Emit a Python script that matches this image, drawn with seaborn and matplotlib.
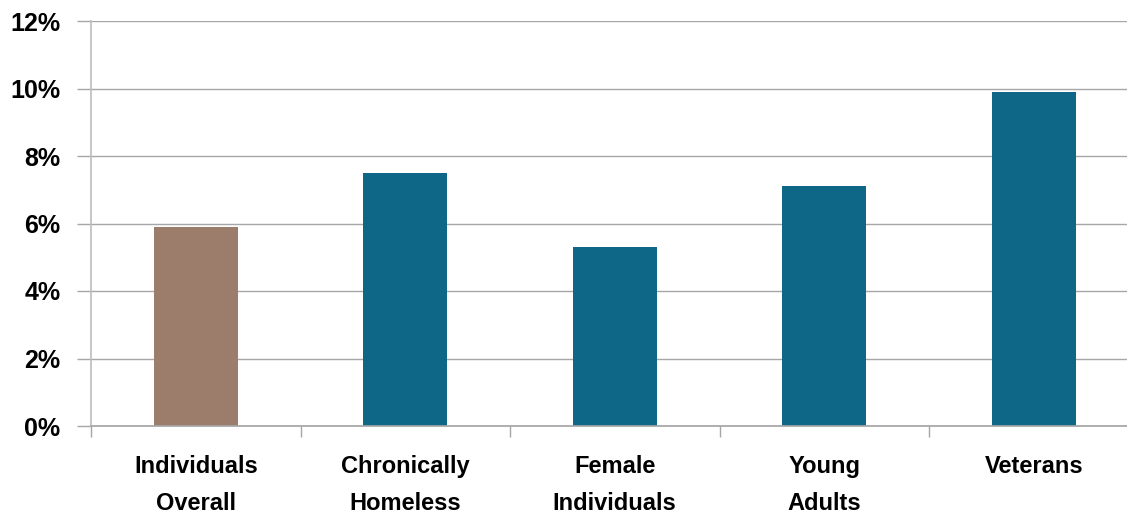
import matplotlib
matplotlib.use("Agg")
import matplotlib.pyplot as plt
import seaborn as sns
import pandas as pd
from matplotlib.ticker import FixedLocator, FuncFormatter

categories = ["Individuals\nOverall", "Chronically\nHomeless", "Female\nIndividuals", "Young\nAdults", "Veterans"]
values = [5.9, 7.5, 5.3, 7.1, 9.9]
groups = ["overall", "sub", "sub", "sub", "sub"]
yticks = [0, 2, 4, 6, 8, 10, 12]

df = pd.DataFrame({"category": categories, "value": values, "group": groups})

sns.set_theme(style="white")
plt.rcParams["font.family"] = ["Liberation Sans", "DejaVu Sans"]
plt.rcParams["text.color"] = "black"
plt.rcParams["xtick.color"] = "black"
plt.rcParams["ytick.color"] = "black"

fig = plt.figure(figsize=(11.27, 5.15), dpi=100)
ax = fig.add_axes([91 / 1127, (515 - 426) / 515, 1047.5 / 1127, 405 / 515])

sns.barplot(data=df, x="category", y="value", hue="group",
            palette={"overall": "#9C7D6C", "sub": "#0E6787"},
            width=0.4, dodge=False, legend=False, ax=ax, saturation=1,
            edgecolor="none", linewidth=0)

ax.set_ylim(0, 12)
ax.set_xlim(-0.5, len(categories) - 0.5)
ax.yaxis.set_major_locator(FixedLocator(yticks))
ax.yaxis.set_major_formatter(FuncFormatter(lambda v, p: f"{int(v)}%"))
ax.grid(axis="y", color="#a6a6a6", linewidth=1.0)
ax.set_axisbelow(True)

for side in ["top", "right"]:
    ax.spines[side].set_visible(False)
ax.spines["left"].set_color("#bfbfbf")
ax.spines["bottom"].set_color("#a6a6a6")

ax.set_xlabel("")
ax.set_ylabel("")

# category labels centred under bars, tick marks between categories
ax.set_xticks(range(len(categories)))
ax.set_xticklabels(categories, fontsize=17, fontweight="bold", linespacing=1.75,
                   color="black")
ax.tick_params(axis="x", length=0, pad=21)
ax.set_xticks([i - 0.5 for i in range(len(categories) + 1)], minor=True)
ax.tick_params(axis="x", which="minor", length=8, color="#a6a6a6", width=1, bottom=True)
ax.tick_params(axis="y", length=10, color="#a6a6a6", width=1, left=True, pad=12,
               labelsize=18, labelcolor="black")
for lbl in ax.get_yticklabels():
    lbl.set_fontweight("bold")

fig.savefig("out.png", dpi=100)
